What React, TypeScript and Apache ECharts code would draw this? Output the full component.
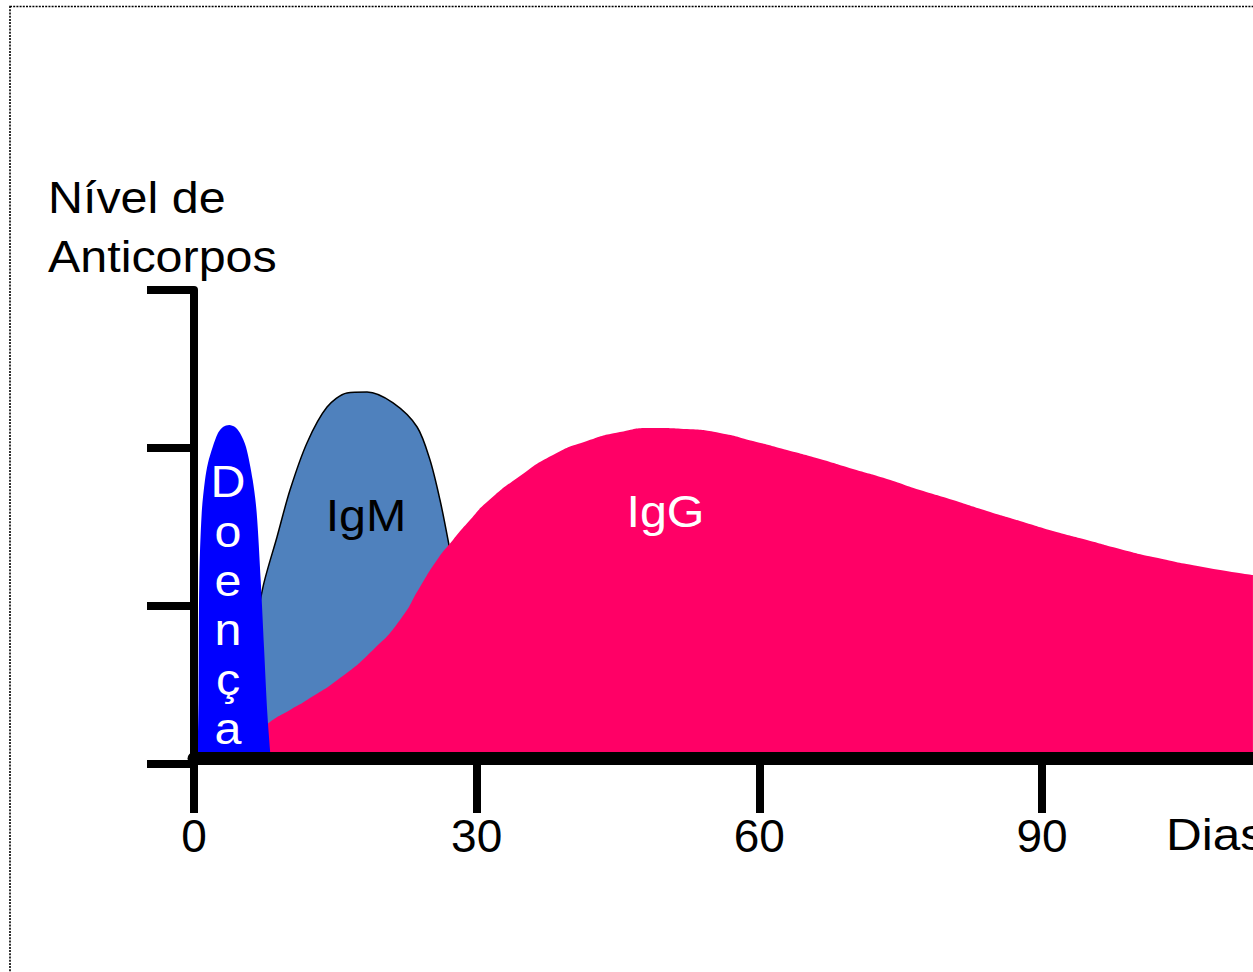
import React, { useEffect, useRef } from "react";
import * as echarts from "echarts";

// x: days, y: antibody level (axis units 0..3)
const xTicks = [0, 30, 60, 90];
const yTicks = [0, 1, 2, 3];

const doencaData: number[][] = [
  [0.371, 0], [0.478, 0.405], [0.562, 1.165], [0.817, 1.589], [1.167, 1.797],
  [1.486, 1.905], [1.985, 2.006], [2.547, 2.095], [3.078, 2.133], [3.747, 2.146],
  [4.352, 2.133], [4.882, 2.095], [5.519, 2.006], [6.23, 1.797], [6.655, 1.589],
  [7.079, 1.165], [7.43, 0.741], [7.78, 0.323], [8.066, 0.089], [8.172, 0],
];

const igmData: number[][] = [
  [5.94, 0.658], [7.32, 1.12], [8.81, 1.437], [10.19, 1.734], [11.99, 2.032],
  [14.12, 2.259], [16.24, 2.348], [18.37, 2.354], [21.13, 2.285], [23.68, 2.133],
  [25.05, 1.924], [26.11, 1.671], [26.96, 1.418], [27.7, 1.165], [28.76, 0.722],
  [29.82, 0.278], [30.57, 0],
];

const iggData: number[][] = [
  [5.943, 0], [7.217, 0.215], [8.066, 0.266], [10.189, 0.342], [11.993, 0.405],
  [15.495, 0.544], [18.998, 0.722], [21.863, 0.911], [23.986, 1.12], [25.79, 1.291],
  [27.488, 1.418], [29.292, 1.544], [31.096, 1.658], [34.599, 1.823], [38.101, 1.956],
  [41.709, 2.044], [45.212, 2.101], [48.714, 2.127], [52.323, 2.12], [55.825, 2.095],
  [59.328, 2.044], [62.936, 1.987], [66.438, 1.93], [69.941, 1.867], [73.549, 1.804],
  [77.052, 1.734], [80.554, 1.671], [84.163, 1.601], [87.665, 1.538], [91.168, 1.475],
  [94.776, 1.418], [98.279, 1.361], [101.781, 1.31], [107.088, 1.247], [112.394, 1.196],
];

const FONT = "'Liberation Sans', Arial, sans-serif";

export default function App() {
  const ref = useRef<HTMLDivElement>(null);
  useEffect(() => {
    if (!ref.current) return;
    const chart = echarts.init(ref.current, null, { renderer: "svg" });
    const txt = (text: string, x: number, y: number, fill: string, align: string, size = 44) => ({
      type: "text",
      x,
      y,
      scaleX: 1.1,
      z: 100,
      style: {
        text,
        fill,
        font: `${size}px ${FONT}`,
        textAlign: align,
        textVerticalAlign: "middle",
        align,
        verticalAlign: "middle",
      },
    });
    const letters = "Doença".split("").map((ch, i) =>
      txt(ch, 228, 482 + i * 49.4, "#ffffff", "center")
    );
    chart.setOption({
      animation: false,
      backgroundColor: "#ffffff",
      grid: { left: 194, right: 0, top: 290, bottom: 208, containLabel: false },
      xAxis: {
        type: "value",
        min: 0,
        max: 112.4,
        interval: 30,
        offset: -6,
        z: 10,
        axisLine: { show: true, onZero: false, lineStyle: { color: "#000", width: 13 } },
        axisTick: {
          show: true,
          length: 55,
          customValues: xTicks,
          lineStyle: { color: "#000", width: 8 },
        },
        axisLabel: {
          show: true,
          customValues: xTicks,
          margin: 55,
          fontSize: 46,
          fontFamily: FONT,
          color: "#000",
        },
        splitLine: { show: false },
      },
      yAxis: {
        type: "value",
        min: 0,
        max: 3,
        interval: 1,
        z: 10,
        axisLine: { show: true, onZero: false, lineStyle: { color: "#000", width: 8 } },
        axisTick: {
          show: true,
          length: 47,
          customValues: yTicks,
          lineStyle: { color: "#000", width: 8 },
        },
        axisLabel: { show: false },
        splitLine: { show: false },
      },
      series: [
        {
          name: "IgM",
          type: "line",
          z: 2,
          data: igmData,
          showSymbol: false,
          smooth: 0.3,
          lineStyle: { color: "#000", width: 1.5 },
          areaStyle: { color: "#4F81BD", opacity: 1 },
        },
        {
          name: "IgG",
          type: "line",
          z: 3,
          data: iggData,
          showSymbol: false,
          smooth: 0.6,
          lineStyle: { width: 0, color: "#FF0066" },
          areaStyle: { color: "#FF0066", opacity: 1 },
        },
        {
          name: "Doença",
          type: "line",
          z: 4,
          data: doencaData,
          showSymbol: false,
          smooth: 0.3,
          lineStyle: { width: 0, color: "#0000FF" },
          areaStyle: { color: "#0000FF", opacity: 1 },
        },
      ],
      graphic: [
        {
          type: "rect",
          z: 0,
          shape: { x: 10, y: 6.5, width: 1400, height: 1100 },
          style: { fill: "none", stroke: "#000", lineWidth: 1.6, lineDash: [2, 1.2] },
        },
        txt("Nível de", 48, 197.5, "#000", "left"),
        txt("Anticorpos", 48, 257, "#000", "left"),
        txt("IgM", 366, 516, "#000", "center"),
        txt("IgG", 665.5, 511.5, "#ffffff", "center"),
        txt("Dias", 1166, 834.5, "#000", "left", 45),
        ...letters,
      ],
    });
    return () => chart.dispose();
  }, []);
  return (
    <div
      ref={ref}
      style={{ position: "fixed", left: 0, top: 0, width: 1253, height: 972 }}
    />
  );
}
